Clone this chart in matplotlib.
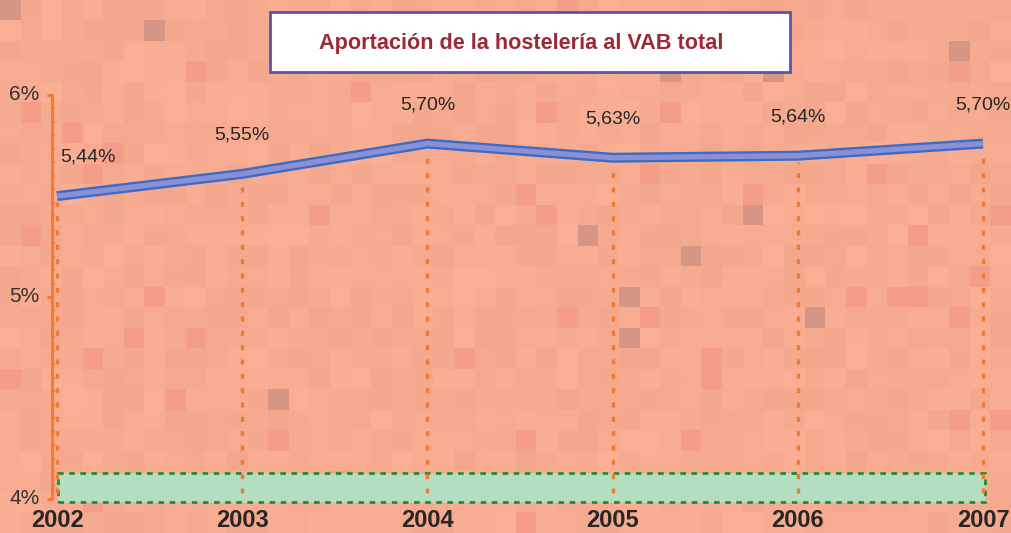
import numpy as np
import matplotlib
matplotlib.use('Agg')
import matplotlib.pyplot as plt
import matplotlib.transforms as mtransforms
from matplotlib.patches import Rectangle
from matplotlib.ticker import MultipleLocator, FixedLocator

years = [2002, 2003, 2004, 2005, 2006, 2007]
share = [5.44, 5.55, 5.70, 5.63, 5.64, 5.70]
share_labels = ['5,44%', '5,55%', '5,70%', '5,63%', '5,64%', '5,70%']
y_ticks = [4, 5, 6]
y_tick_labels = ['4%', '5%', '6%']
title = 'Aportación de la hostelería al VAB total'

plt.rcParams['font.family'] = ['Liberation Sans', 'DejaVu Sans']

W, H = 1011, 533
fig = plt.figure(figsize=(W / 100, H / 100), dpi=100)

# mosaic background (deterministic hash, decoration only)
bg = fig.add_axes([0, 0, 1, 1], zorder=-10)
nx, ny = 49, 26
jj, ii = np.meshgrid(np.arange(nx), np.arange(ny))
h1 = np.modf(np.abs(np.sin(ii * 12.9898 + jj * 78.233) * 43758.5453))[0]
h2 = np.modf(np.abs(np.sin(ii * 39.346 + jj * 11.135) * 24634.6345))[0]
img = np.ones((ny, nx, 3)) * np.array([247, 171, 144]) / 255
img += ((h1 - 0.5) * 0.028)[..., None]
img[h2 > 0.96] = np.array([244, 158, 138]) / 255
img[h2 < 0.012] = np.array([214, 150, 134]) / 255
bg.imshow(np.clip(img, 0, 1), extent=[0, 1, 0, 1], aspect='auto',
          interpolation='nearest')
bg.axis('off')

ax = fig.add_axes([57 / W, 34 / H, 926 / W, 404 / H])
ax.set_facecolor('none')
ax.set_xlim(2002, 2007)
ax.set_ylim(4, 6)

# 3d-ish depth shift
line_tr = mtransforms.offset_copy(ax.transData, fig=fig, x=0, y=12, units='dots')
drop_tr = mtransforms.offset_copy(ax.transData, fig=fig, x=0, y=6, units='dots')

# floor
ax.add_patch(Rectangle((0.001, -3 / 404), 1.001, 29 / 404, transform=ax.transAxes,
                       facecolor='#b3dfc0', edgecolor='#1e8c3f', lw=2,
                       linestyle=(0, (2, 2)), clip_on=False, zorder=1))

ax.vlines(years, 4, share, colors='#f07a30', linestyles=(0, (1.5, 2.8)), lw=2.4,
          transform=drop_tr, zorder=2, clip_on=False)

ax.plot(years, share, color='#3a6cc4', lw=7.2, solid_capstyle='butt',
        solid_joinstyle='miter', transform=line_tr, zorder=3, clip_on=False)
ax.plot(years, share, color='#8c8fd6', lw=3.8, solid_capstyle='butt',
        solid_joinstyle='miter', transform=line_tr, zorder=4, clip_on=False)

for i, (x, v, lbl) in enumerate(zip(years, share, share_labels)):
    if i == 0:
        ha, dx = 'left', 3
    else:
        ha, dx = 'center', 0
    ax.annotate(lbl, (x, v), xycoords=line_tr, xytext=(dx, 39),
                textcoords='offset pixels', ha=ha, va='center',
                fontsize=14, color='#262626', zorder=5)

for s in ['top', 'right', 'bottom']:
    ax.spines[s].set_visible(False)
ax.spines['left'].set_color('#f07a30')
ax.spines['left'].set_linewidth(2)
ax.spines['left'].set_position(('outward', 3.6))

ax.yaxis.set_major_locator(FixedLocator(y_ticks))
ax.set_yticklabels(y_tick_labels)
ax.yaxis.set_minor_locator(MultipleLocator(1 / 15))
ax.tick_params(axis='y', which='major', direction='out', length=3.5, width=2,
               color='#f07a30', labelsize=15, labelcolor='#333333', pad=5.5)
ax.tick_params(axis='y', which='minor', direction='in', length=2.5, width=1.5,
               color='#f07a30')
for t in ax.get_yticklabels():
    t.set_transform(t.get_transform() + mtransforms.ScaledTranslation(0, 3 / 100, fig.dpi_scale_trans))

ax.set_xticks(years)
ax.set_xticklabels([str(y) for y in years], fontweight='bold')
ax.tick_params(axis='x', length=0, labelsize=17, labelcolor='#262626', pad=7.5)

# title box
fig.patches.append(Rectangle((270 / W, 1 - 72 / H), 520 / W, 60 / H,
                             transform=fig.transFigure, facecolor='white',
                             edgecolor='#5555aa', lw=2, zorder=5))
fig.text(521 / W, 1 - 43 / H, title, ha='center', va='center', fontsize=15.6,
         fontweight='bold', color='#9c2a36', zorder=6)

fig.savefig('out.png', dpi=100)
